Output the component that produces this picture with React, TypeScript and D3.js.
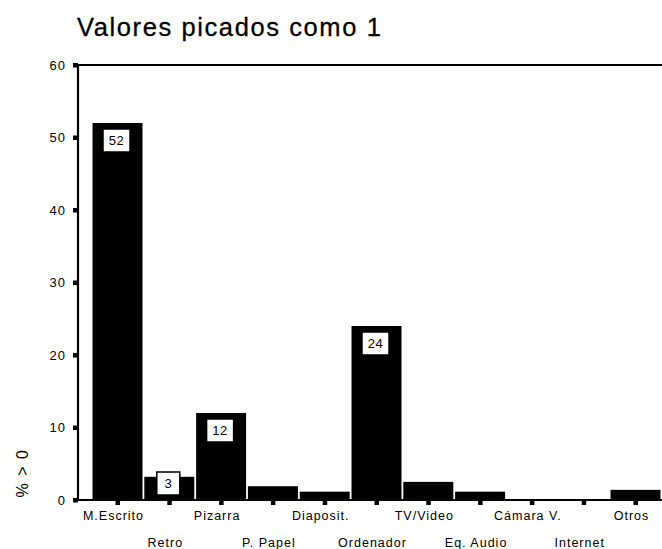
import React from "react";
import * as d3 from "d3";

const categories = ["M.Escrito", "Retro", "Pizarra", "P. Papel", "Diaposit.", "Ordenador", "TV/Video", "Eq. Audio", "Cámara V.", "Internet", "Otros"];
const values = [52, 3.2, 12, 1.9, 1.15, 24, 2.5, 1.15, 0, 0, 1.4];
const valueLabels = ["52", "3", "12", "", "", "24", "", "", "", "", ""];
const yTicks = [0, 10, 20, 30, 40, 50, 60];
const title = "Valores picados como 1";
const yTitle = "% > 0";

const W = 662;
const H = 549;
const FONT = "'Liberation Sans', Arial, sans-serif";

export default function App() {
  const y = d3.scaleLinear().domain([0, 60]).range([500, 65]);
  const x = d3.scaleBand<string>().domain(categories).range([92, 661]).paddingInner(0.035).paddingOuter(0.01);
  const base = y(0);
  return (
    <svg width={W} height={H} style={{ position: "absolute", left: 0, top: 0, background: "#fff" }}>
      <text x={77} y={36} fontFamily={FONT} fontSize={25.5} letterSpacing={1.6} fill="#000" stroke="#000" strokeWidth={0.3}>{title}</text>
      {/* axis frame */}
      <line x1={78} x2={W} y1={y(60)} y2={y(60)} stroke="#000" strokeWidth={2.2} />
      <line x1={78} x2={78} y1={y(60) - 1} y2={base + 1} stroke="#000" strokeWidth={2.2} />
      <line x1={74} x2={W} y1={base} y2={base} stroke="#000" strokeWidth={2} />
      {yTicks.map((t) => (
        <g key={t}>
          <rect x={73} y={y(t) - 2} width={5} height={4.5} fill="#000" />
          <text x={66} y={y(t) + 4.5} textAnchor="end" fontFamily={FONT} fontSize={13} letterSpacing={1} fill="#000">{t}</text>
        </g>
      ))}
      <text transform={`translate(28,473) rotate(-90)`} textAnchor="middle" fontFamily={FONT} fontSize={16} letterSpacing={1.5} fill="#000">{yTitle}</text>
      {categories.map((c, i) => {
        const bx = x(c)!;
        const bw = x.bandwidth();
        const cx = bx + bw / 2;
        const top = y(values[i]);
        const lab = valueLabels[i];
        const boxW = lab.length > 1 ? 27 : 23;
        const boxH = 23;
        const boxY = Math.min(top + 6, base - 5 - boxH);
        return (
          <g key={c}>
            {values[i] > 0 && <rect x={bx} y={top} width={bw} height={base - top} fill="#000" />}
            <rect x={cx - 2} y={base} width={4.5} height={5} fill="#000" />
            {lab && (
              <g>
                <rect x={cx - boxW / 2 - 1} y={boxY} width={boxW} height={boxH} fill="#fff" stroke="#000" strokeWidth={1.5} />
                <text x={cx - 1} y={boxY + 16} textAnchor="middle" fontFamily={FONT} fontSize={13} letterSpacing={0.5} fill="#000">{lab}</text>
              </g>
            )}
            <text x={cx - 4} y={i % 2 === 0 ? 520 : 547} textAnchor="middle" fontFamily={FONT} fontSize={12.5} letterSpacing={1} fill="#000">{c}</text>
          </g>
        );
      })}
    </svg>
  );
}
